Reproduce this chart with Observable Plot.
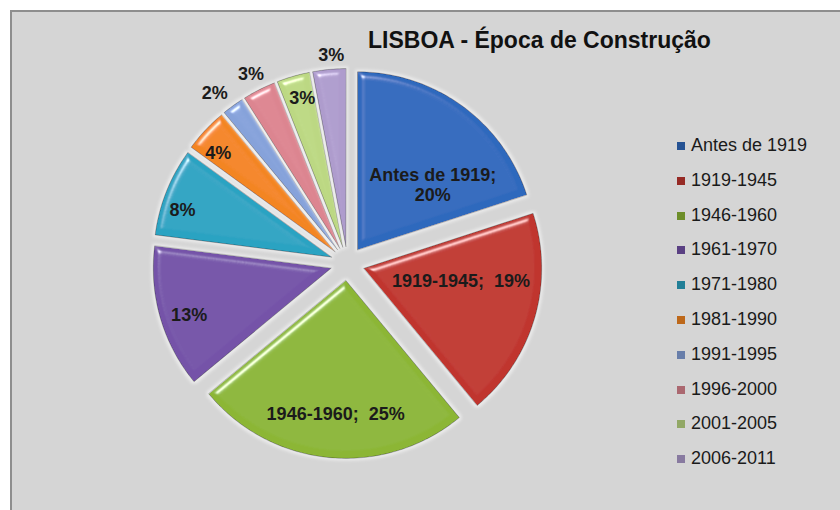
<!DOCTYPE html>
<html>
<head>
<meta charset="utf-8">
<script src="https://cdn.jsdelivr.net/npm/d3@7"></script>
<script src="https://cdn.jsdelivr.net/npm/@observablehq/plot@0.6"></script>
<style>
html, body { margin: 0; padding: 0; background: #fff; }
#wrap { position: relative; width: 840px; height: 510px; overflow: hidden; font-family: "Liberation Sans", Arial, sans-serif; }
#bg { position: absolute; left: 10px; top: 10px; right: 0; bottom: 0; background: #d5d5d5; border-top: 2px solid #8e8e8e; border-left: 2px solid #8e8e8e; }
#chart { position: absolute; left: 0; top: 0; }
#title { position: absolute; left: 368px; top: 29px; font-weight: bold; font-size: 23px; line-height: 23px; color: #111; white-space: nowrap; }
.lg { position: absolute; left: 677px; height: 18px; line-height: 18px; font-size: 18px; color: #1a1a1a; white-space: nowrap; }
.lg span.sw { position: absolute; left: 0; top: 6px; width: 8px; height: 8px; }
.lg span.tx { position: absolute; left: 14px; top: 0; }
</style>
</head>
<body>
<div id="wrap">
  <div id="bg"></div>
  <div id="chart"></div>
  <div id="title">LISBOA - Época de Construção</div>
  <div id="legend"></div>
</div>
<script>
// ---- data ----
const categories = ["Antes de 1919", "1919-1945", "1946-1960", "1961-1970", "1971-1980",
                    "1981-1990", "1991-1995", "1996-2000", "2001-2005", "2006-2011"];
const values = [20, 19, 25, 13, 8, 4, 2, 3, 3, 3];
const sliceColors = ["#2f69bd", "#c0362f", "#8cb636", "#7452a8", "#2aa3c2",
                     "#f38522", "#86a2da", "#dc8590", "#bcd883", "#ae9ccd"];
const namedLabels = [true, true, true, false, false, false, false, false, false, false];
// label layout: radial fraction and angular nudge (degrees)
const labelRadius = [0.56, 0.55, 0.75, 0.84, 0.88, 0.86, 1.12, 1.1, 0.87, 1.08];
const labelNudge = [13, -9, -1, -2, -4, -3, -2, 0, 1, 1];

// ---- geometry derived from data ----
const explode = 0.0955;
const arcs = d3.pie().sort(null).value(d => d)(values);
const slicePts = [];
const labels = [];
arcs.forEach((a, i) => {
  const mid = (a.startAngle + a.endAngle) / 2;
  const ox = explode * Math.sin(mid), oy = explode * Math.cos(mid);
  const cat = categories[i];
  slicePts.push({cat, x: ox, y: oy});
  const n = Math.max(2, Math.ceil((a.endAngle - a.startAngle) / (Math.PI / 180)));
  for (let k = 0; k <= n; k++) {
    const t = a.startAngle + (a.endAngle - a.startAngle) * k / n;
    slicePts.push({cat, x: ox + Math.sin(t), y: oy + Math.cos(t)});
  }
  const la = mid + labelNudge[i] * Math.PI / 180;
  const txt = namedLabels[i]
    ? (i === 0 ? `${cat};\n${values[i]}%` : `${cat};\u00a0\u00a0${values[i]}%`)
    : `${values[i]}%`;
  labels.push({x: ox + labelRadius[i] * Math.sin(la), y: oy + labelRadius[i] * Math.cos(la), text: txt});
});

const chart = Plot.plot({
  width: 840,
  height: 510,
  margin: 0,
  x: {domain: [-1, 1], range: [169, 525], axis: null},
  y: {domain: [-1, 1], range: [441, 85], axis: null},
  color: {domain: categories, range: sliceColors},
  style: {background: "transparent", fontFamily: "Liberation Sans, Arial, sans-serif"},
  marks: [
    Plot.line(slicePts, {x: "x", y: "y", z: "cat", fill: "cat", stroke: "#000", strokeOpacity: 0.35, strokeWidth: 1, curve: "linear-closed"}),
    Plot.text(labels, {x: "x", y: "y", text: "text", fontSize: 18, fontWeight: "bold", fill: "#1b1b1b", lineHeight: 1.1})
  ]
});
document.getElementById("chart").appendChild(chart);

// bevel lighting on slices
const svg = d3.select(chart);
const defs = svg.insert("defs", ":first-child");
const f = defs.append("filter").attr("id", "bevel").attr("x", "-10%").attr("y", "-10%").attr("width", "120%").attr("height", "120%");
f.append("feGaussianBlur").attr("in", "SourceAlpha").attr("stdDeviation", 3).attr("result", "blur");
const sl = f.append("feSpecularLighting").attr("in", "blur").attr("surfaceScale", 5).attr("specularConstant", 0.9)
  .attr("specularExponent", 40).attr("lighting-color", "#ffffff").attr("result", "spec");
sl.append("feDistantLight").attr("azimuth", 235).attr("elevation", 40);
f.append("feComposite").attr("in", "spec").attr("in2", "SourceAlpha").attr("operator", "in").attr("result", "specIn");
f.append("feComposite").attr("in", "SourceGraphic").attr("in2", "specIn").attr("operator", "arithmetic")
  .attr("k1", 0).attr("k2", 1).attr("k3", 0.8).attr("k4", 0).attr("result", "lit");
// soft pale halo around slices
f.append("feMorphology").attr("in", "SourceAlpha").attr("operator", "dilate").attr("radius", 1.5).attr("result", "dil");
f.append("feGaussianBlur").attr("in", "dil").attr("stdDeviation", 1.5).attr("result", "dilb");
f.append("feFlood").attr("flood-color", "#f4f4f4").attr("flood-opacity", 0.7).attr("result", "fl");
f.append("feComposite").attr("in", "fl").attr("in2", "dilb").attr("operator", "in").attr("result", "halo");
const m = f.append("feMerge");
m.append("feMergeNode").attr("in", "halo");
m.append("feMergeNode").attr("in", "lit");
svg.selectAll('g[aria-label="line"] path').attr("filter", "url(#bevel)");

// legend
const lgTop0 = 136, lgStep = 34.8;
const legend = d3.select("#legend");
categories.forEach((c, i) => {
  const row = legend.append("div").attr("class", "lg").style("top", (lgTop0 + i * lgStep) + "px");
  row.append("span").attr("class", "sw").style("background", d3.color(sliceColors[i]).darker(0.7));
  row.append("span").attr("class", "tx").text(c);
});
</script>
</body>
</html>
